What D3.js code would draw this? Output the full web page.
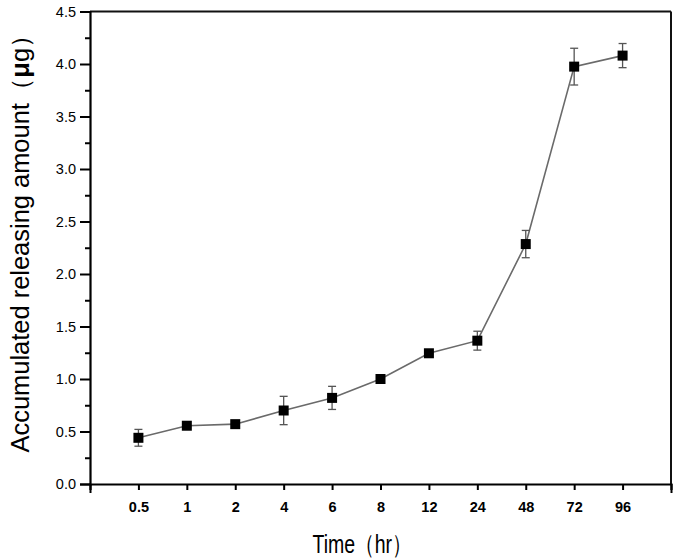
<!DOCTYPE html>
<html><head><meta charset="utf-8">
<script src="https://cdn.jsdelivr.net/npm/d3@7"></script>
<style>body{margin:0;background:#fff;} svg{display:block;}</style>
</head><body>
<svg id="c" width="675" height="559"></svg>
<script>
const categories = ["0.5","1","2","4","6","8","12","24","48","72","96"];
const values = [0.44, 0.555, 0.57, 0.70, 0.82, 1.00, 1.245, 1.365, 2.285, 3.975, 4.08];
const errors = [0.08, 0, 0, 0.135, 0.11, 0, 0, 0.09, 0.13, 0.175, 0.115];
const yTicks = [0.0, 0.5, 1.0, 1.5, 2.0, 2.5, 3.0, 3.5, 4.0, 4.5];
const yMinorTicks = [0.25, 0.75, 1.25, 1.75, 2.25, 2.75, 3.25, 3.75, 4.25];

const svg = d3.select("#c");
const L = 90, R = 671, T = 11.5, B = 484;
const x = d3.scaleLinear().domain([-1, categories.length]).range([L, R]);
const y = d3.scaleLinear().domain([0, 4.5]).range([B, T]);
const FONT = "Liberation Sans, Arial, sans-serif";

// frame top/right
svg.append("line").attr("x1", L).attr("x2", R).attr("y1", T).attr("y2", T).attr("stroke", "#111").attr("stroke-width", 2);
svg.append("line").attr("x1", R).attr("x2", R).attr("y1", T).attr("y2", B).attr("stroke", "#111").attr("stroke-width", 2);

// y axis
const yAxis = d3.axisLeft(y).tickValues(yTicks).tickFormat(d3.format(".1f")).tickSize(10).tickPadding(4);
const gy = svg.append("g").attr("transform", `translate(${L},0)`).call(yAxis);
gy.select(".domain").attr("stroke", "#000").attr("stroke-width", 2.2);
gy.selectAll(".tick line").attr("stroke", "#000").attr("stroke-width", 2);
gy.selectAll(".tick text").attr("font-family", FONT).attr("font-size", 14.5).attr("fill", "#000");
const yMinor = d3.axisLeft(y).tickValues(yMinorTicks).tickFormat("").tickSize(5);
const gym = svg.append("g").attr("transform", `translate(${L},0)`).call(yMinor);
gym.select(".domain").remove();
gym.selectAll(".tick line").attr("stroke", "#000").attr("stroke-width", 2);

// x axis
const xTickIdx = categories.map((c, i) => i);
const xAxis = d3.axisBottom(x).tickValues(xTickIdx).tickFormat(i => categories[i]).tickSize(6).tickPadding(12);
const gx = svg.append("g").attr("transform", `translate(0,${B})`).call(xAxis);
gx.select(".domain").attr("stroke", "#000").attr("stroke-width", 2.2);
gx.selectAll(".tick line").attr("stroke", "#000").attr("stroke-width", 2);
gx.selectAll(".tick text").attr("font-family", FONT).attr("font-size", 14.5).attr("font-weight", "bold").attr("fill", "#000");
const xEnds = d3.axisBottom(x).tickValues([-1, categories.length]).tickFormat("").tickSize(9);
const gxe = svg.append("g").attr("transform", `translate(0,${B})`).call(xEnds);
gxe.select(".domain").remove();
gxe.selectAll(".tick line").attr("stroke", "#000").attr("stroke-width", 2);

// line
const line = d3.line().x((d, i) => x(i)).y(d => y(d));
svg.append("path").datum(values).attr("d", line).attr("fill", "none").attr("stroke", "#6a6a6a").attr("stroke-width", 1.6);

// error bars
const eb = svg.append("g").attr("stroke", "#555").attr("stroke-width", 1.3);
values.forEach((v, i) => {
  const e = errors[i];
  if (!e) return;
  const cx = x(i);
  eb.append("line").attr("x1", cx).attr("x2", cx).attr("y1", y(v + e)).attr("y2", y(v - e));
  eb.append("line").attr("x1", cx - 4).attr("x2", cx + 4).attr("y1", y(v + e)).attr("y2", y(v + e));
  eb.append("line").attr("x1", cx - 4).attr("x2", cx + 4).attr("y1", y(v - e)).attr("y2", y(v - e));
});

// markers
svg.append("g").selectAll("rect").data(values).join("rect")
  .attr("x", (d, i) => x(i) - 5).attr("y", d => y(d) - 5)
  .attr("width", 10).attr("height", 10).attr("fill", "#000");

// axis titles
svg.append("text").attr("x", 362).attr("y", 553).attr("text-anchor", "middle")
  .attr("font-family", FONT).attr("font-size", 26).attr("fill", "#000")
  .attr("textLength", 99).attr("lengthAdjust", "spacingAndGlyphs")
  .text("Time（hr）");
const yt = svg.append("text").attr("transform", "translate(29,237.5) rotate(-90)").attr("text-anchor", "middle")
  .attr("font-family", FONT).attr("font-size", 25).attr("fill", "#000")
  .attr("textLength", 430).attr("lengthAdjust", "spacingAndGlyphs");
yt.append("tspan").text("Accumulated releasing amount（");
yt.append("tspan").attr("font-weight", "bold").text("μ");
yt.append("tspan").text("g）");
</script>
</body></html>
